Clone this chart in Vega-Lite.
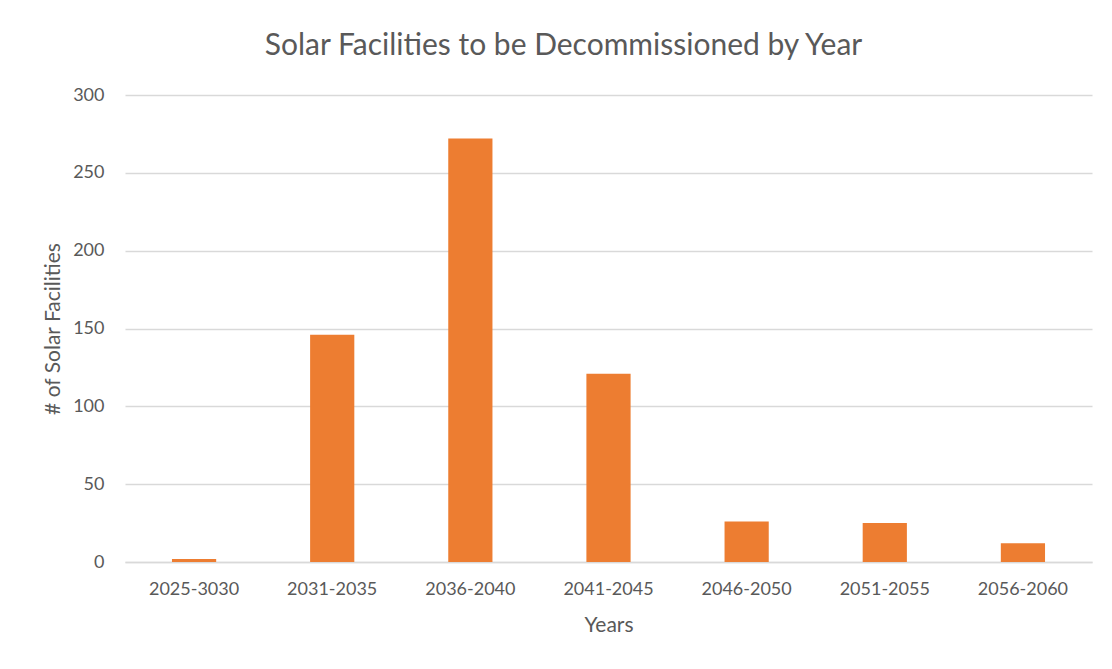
{
  "$schema": "https://vega.github.io/schema/vega-lite/v6.json",
  "autosize": {"type": "none"},
  "width": 967,
  "height": 467,
  "padding": {"left": 125, "top": 95, "right": 20, "bottom": 107},
  "background": "white",
  "title": {
    "text": "Solar Facilities to be Decommissioned by Year",
    "font": "Lato",
    "fontSize": 30,
    "fontWeight": "normal",
    "color": "#595959",
    "anchor": "middle",
    "dx": -45,
    "offset": 25
  },
  "data": {
    "values": [
      {"period": "2025-3030", "count": 2},
      {"period": "2031-2035", "count": 146},
      {"period": "2036-2040", "count": 272},
      {"period": "2041-2045", "count": 121},
      {"period": "2046-2050", "count": 26},
      {"period": "2051-2055", "count": 25},
      {"period": "2056-2060", "count": 12}
    ]
  },
  "mark": {"type": "bar", "color": "#ED7D31", "width": {"band": 0.32}},
  "encoding": {
    "x": {
      "field": "period",
      "type": "nominal",
      "sort": null,
      "title": "Years",
      "scale": {"paddingInner": 0, "paddingOuter": 0},
      "axis": {
        "labelAngle": 0,
        "labelFont": "Lato",
        "labelFontSize": 18,
        "labelColor": "#595959",
        "labelPadding": 18,
        "titleFont": "Lato",
        "titleFontSize": 21,
        "titleFontWeight": "normal",
        "titleColor": "#595959",
        "titlePadding": 16,
        "ticks": false,
        "domain": true,
        "domainColor": "#d9d9d9",
        "domainWidth": 1.5,
        "grid": false
      }
    },
    "y": {
      "field": "count",
      "type": "quantitative",
      "title": "# of Solar Facilities",
      "scale": {"domain": [0, 300], "nice": false},
      "axis": {
        "values": [0, 50, 100, 150, 200, 250, 300],
        "labelFont": "Lato",
        "labelFontSize": 18,
        "labelColor": "#595959",
        "labelPadding": 21,
        "titleFont": "Lato",
        "titleFontSize": 21,
        "titleFontWeight": "normal",
        "titleColor": "#595959",
        "titlePadding": 9,
        "ticks": false,
        "domain": false,
        "grid": true,
        "gridColor": "#d9d9d9",
        "gridWidth": 1.5
      }
    }
  },
  "config": {"view": {"stroke": null}}
}
